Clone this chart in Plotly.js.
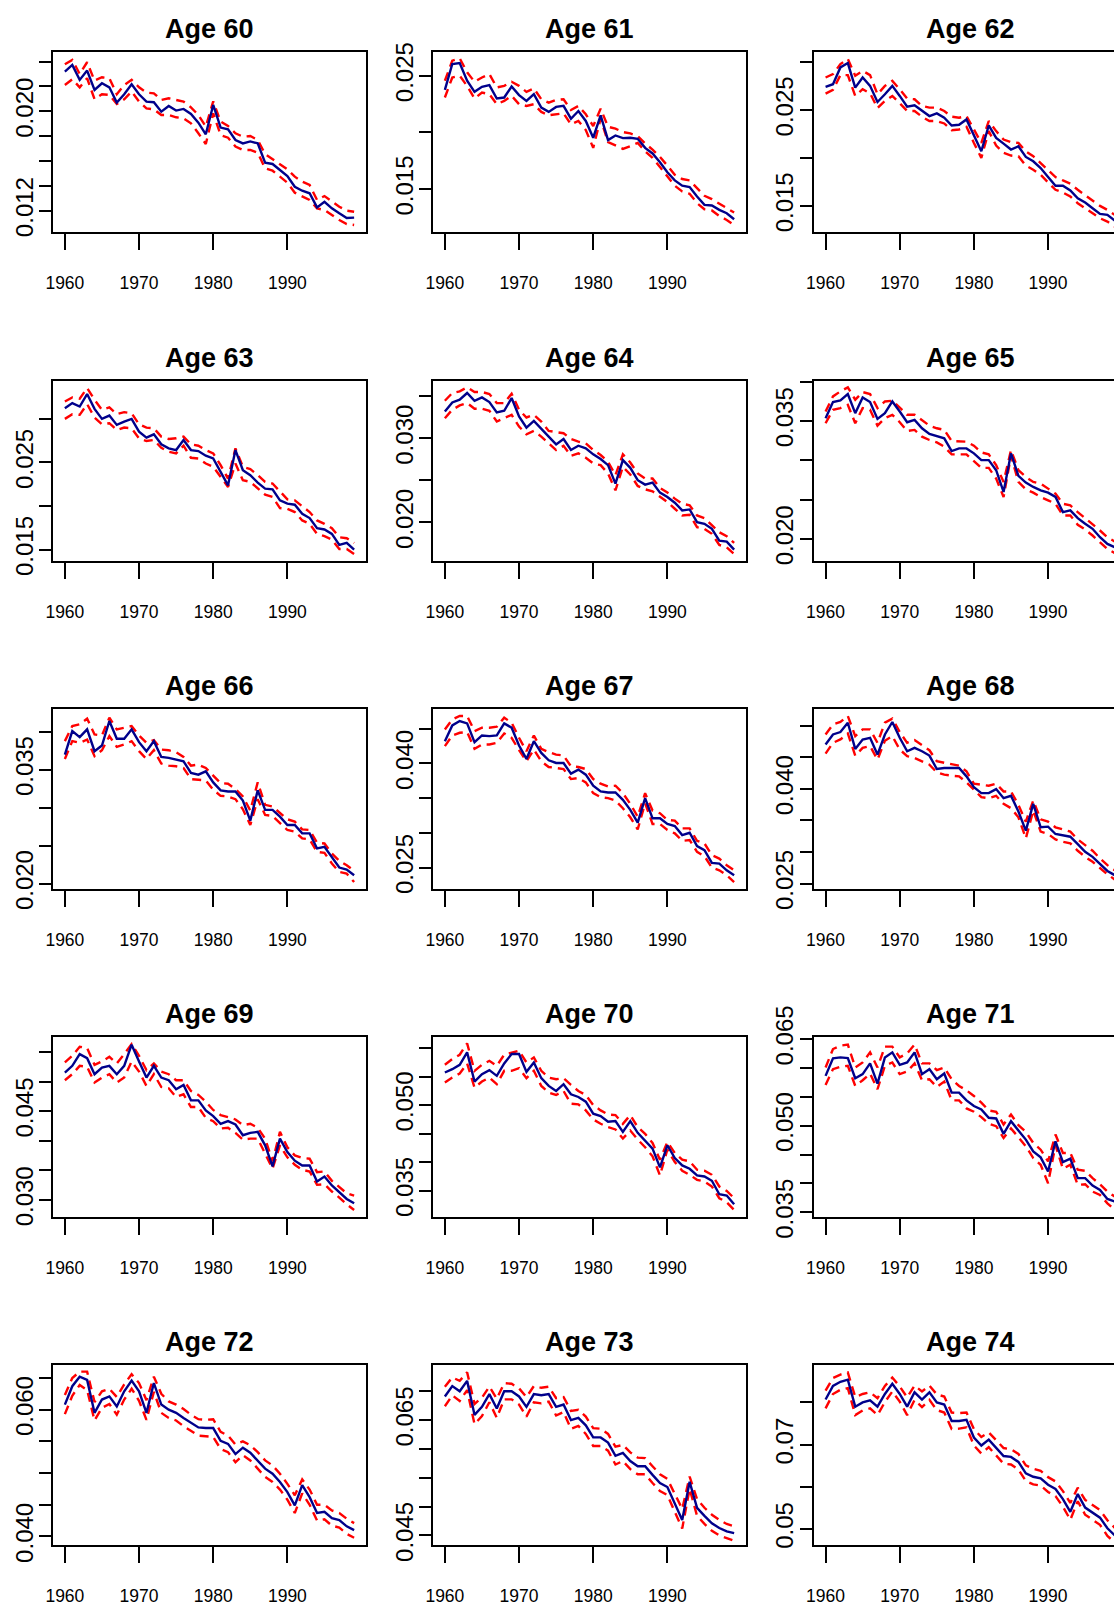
<!DOCTYPE html>
<html><head><meta charset="utf-8">
<script src="https://cdn.plot.ly/plotly-3.0.1.min.js"></script>
<style>html,body{margin:0;padding:0;overflow:hidden;background:#fff}#chart{width:1140px;height:1680px}</style>
</head><body><div id="chart"></div>
<script>
// Years of observation
const years = [1960,1961,1962,1963,1964,1965,1966,1967,1968,1969,1970,1971,1972,1973,1974,1975,1976,1977,1978,1979,1980,1981,1982,1983,1984,1985,1986,1987,1988,1989,1990,1991,1992,1993,1994,1995,1996,1997,1998,1999];
const ages = [60,61,62,63,64,65,66,67,68,69,70,71,72,73,74];
const xTickVals = [1960,1970,1980,1990];
// Values below are in units of 1/1000 (per mille); tick labels show the original decimal labels.
const mid60=[23.2,23.73,22.53,23.28,21.72,22.26,21.93,20.7,21.37,22.18,21.37,20.78,20.73,19.97,20.43,20.06,20.19,19.79,19.09,18.15,20.51,18.69,18.55,17.69,17.42,17.58,17.42,15.87,15.76,15.28,14.79,13.93,13.61,13.4,12.27,12.72,12.19,11.79,11.41,11.44];
const up60=[23.79,24.14,23.0,23.95,22.47,22.74,22.66,21.37,22.12,22.53,21.93,21.5,21.45,20.91,21.05,20.91,20.78,20.32,19.7,18.77,20.8,19.17,18.82,18.23,17.96,18.01,17.69,16.56,16.13,15.71,15.33,14.74,14.34,14.07,12.86,13.18,12.72,12.32,12.0,11.92];
const lo60=[22.12,22.58,21.93,22.66,20.97,21.37,21.32,20.59,20.97,21.59,20.78,20.24,20.16,19.7,19.7,19.52,19.44,19.03,18.23,17.37,19.84,18.09,17.88,17.16,16.89,16.89,16.67,15.41,15.22,14.74,14.26,13.45,13.13,12.86,12.19,12.05,11.65,11.25,10.93,10.85];
const mid61=[23.76,26.04,26.13,24.56,23.58,24.02,24.17,22.99,23.08,24.05,23.29,22.78,23.37,22.19,21.81,22.25,22.34,21.21,21.89,21.01,19.53,21.51,19.32,19.73,19.5,19.53,19.44,18.64,18.14,17.37,16.48,15.77,15.3,15.18,14.35,13.61,13.55,13.17,12.87,12.34];
const up61=[24.56,26.33,26.54,25.3,24.47,24.85,25.15,23.97,24.11,24.47,24.11,23.58,23.88,22.93,22.63,22.87,22.93,21.98,22.34,21.6,20.56,22.1,20.5,20.33,20.03,19.91,19.68,19.02,18.49,17.84,17.07,16.27,15.89,15.77,15.09,14.41,14.11,13.7,13.31,12.93];
const lo61=[23.08,24.85,25.0,24.1,22.99,23.52,23.37,22.49,22.78,23.23,22.49,22.34,22.49,21.81,21.51,21.6,21.69,20.71,21.01,20.21,18.64,21.21,19.14,18.85,18.55,18.79,19.08,18.34,17.75,16.95,16.07,15.3,14.79,14.59,13.76,13.22,13.11,12.63,12.28,11.83];
const mid62=[27.41,27.69,29.44,29.9,27.34,28.39,27.52,25.84,26.64,27.52,26.47,25.35,25.49,24.9,24.37,24.65,24.2,23.39,23.46,24.02,22.27,20.7,23.39,22.1,21.5,20.88,21.22,20.11,19.65,18.95,18.01,17.1,17.1,16.61,15.8,15.35,14.76,14.16,14.06,13.46];
const up62=[28.39,28.74,29.79,30.32,28.57,29.09,28.64,26.64,27.52,28.04,27.17,26.19,26.12,25.42,25.25,25.25,24.9,24.3,24.2,24.37,22.97,21.57,23.85,22.8,21.92,21.64,21.57,20.7,20.18,19.48,18.71,18.01,17.66,17.31,16.68,16.15,15.56,15.0,14.58,14.06];
const lo62=[26.71,27.1,28.64,28.64,26.47,27.17,26.75,25.2,25.95,26.47,25.7,24.9,24.9,24.3,23.85,23.85,23.6,22.9,22.97,23.25,21.57,20.0,22.8,21.29,20.53,20.25,20.18,19.2,18.78,18.25,17.45,16.68,16.4,15.98,15.28,14.76,14.23,13.71,13.36,12.83];
const mid63=[31.23,31.81,31.42,32.85,31.15,30.0,30.38,29.31,29.69,30.0,28.54,27.85,28.23,27.08,26.62,26.42,27.58,26.42,26.31,25.77,25.46,23.92,22.38,26.42,24.12,23.54,22.69,22.0,21.92,20.65,20.27,20.15,19.12,18.62,17.46,17.31,16.81,15.54,15.77,15.0];
const up63=[32.0,32.46,32.31,33.54,32.19,31.04,31.31,30.54,30.77,30.65,29.38,29.0,28.92,27.96,27.69,27.77,27.96,27.08,26.92,26.42,26.04,24.69,23.15,26.62,24.5,24.23,23.54,22.77,22.58,21.62,20.77,20.65,20.0,19.31,18.35,17.96,17.46,16.42,16.31,15.77];
const lo63=[30.0,30.54,30.46,31.69,30.15,29.38,29.5,28.73,29.0,28.92,27.77,27.46,27.58,26.69,26.23,26.04,26.92,25.54,25.46,24.88,24.5,23.35,22.19,24.88,22.96,22.77,22.0,21.31,21.04,19.77,19.69,19.31,18.35,17.96,16.81,16.54,16.15,15.08,15.08,14.5];
const mid64=[33.19,34.26,34.58,35.38,34.46,34.86,34.3,33.07,33.27,34.78,32.59,31.27,32.07,31.08,30.2,29.28,29.92,28.61,29.12,28.8,28.09,27.53,26.81,24.62,27.41,26.49,25.02,24.5,24.74,23.55,23.03,22.35,21.43,21.55,20.04,19.84,19.24,17.85,17.73,16.77];
const up64=[34.46,35.38,35.58,36.06,35.5,35.5,35.26,34.18,34.18,35.3,33.39,32.47,32.79,31.99,30.88,30.72,30.6,29.92,29.6,29.4,28.61,28.01,27.21,25.62,28.09,27.13,25.82,25.22,25.22,24.1,23.55,22.83,22.23,22.03,20.84,20.52,19.72,18.84,18.37,17.57];
const lo64=[32.39,33.39,33.9,34.18,33.51,33.51,33.27,31.99,32.39,32.79,31.39,30.48,30.88,30.2,29.4,28.6,29.1,27.93,28.21,27.69,27.01,26.81,25.82,23.82,26.61,25.7,24.34,23.94,23.71,23.03,22.43,21.63,20.84,20.92,19.44,19.24,18.65,17.33,17.05,16.25];
const mid65=[35.34,37.39,37.6,38.41,35.98,37.98,37.39,35.25,35.98,37.47,36.19,34.83,35.13,34.06,33.34,33.08,32.78,31.16,31.5,31.5,30.87,30.01,30.01,28.73,25.97,30.87,28.01,27.16,26.6,26.18,25.88,25.33,23.41,23.62,22.64,21.92,21.28,20.21,19.36,18.93];
const up65=[36.19,38.11,38.75,39.26,37.69,38.66,38.41,36.62,37.47,37.56,36.7,35.77,35.77,35.13,34.4,34.06,33.85,32.44,32.44,32.36,31.85,30.99,30.74,29.37,27.24,31.29,28.73,27.88,27.24,27.03,26.39,25.75,24.47,24.26,23.41,22.64,21.92,21.07,20.21,19.66];
const lo65=[34.7,36.4,36.62,37.04,34.7,36.62,36.4,34.4,35.34,35.77,34.83,33.72,33.85,33.0,32.57,32.27,31.72,30.74,30.74,30.74,29.89,29.03,29.03,27.67,25.33,30.57,27.24,26.31,25.88,25.33,24.9,24.47,22.98,22.98,21.79,21.19,20.43,19.57,18.72,18.21];
const mid66=[36.99,40.07,39.28,40.3,37.43,38.18,41.4,39.06,39.06,40.3,38.62,37.43,38.75,36.68,36.55,36.32,36.1,34.56,34.34,34.78,33.32,32.27,32.13,32.13,30.94,28.29,32.27,29.71,29.71,28.82,27.72,27.72,26.62,26.62,24.63,24.85,23.44,22.12,21.85,21.1];
const up66=[38.75,40.74,40.96,41.71,39.63,39.5,41.84,40.3,40.52,40.74,39.5,38.53,38.88,37.65,37.56,37.29,36.68,35.53,35.66,35.22,34.21,33.24,33.15,32.44,31.47,29.62,33.32,30.37,30.15,29.27,28.47,28.16,27.15,27.06,25.38,25.29,23.97,23.0,22.43,21.68];
const lo66=[36.41,38.75,38.53,38.97,36.77,37.56,39.41,38.0,38.31,38.75,37.43,36.41,37.56,35.8,35.53,35.44,35.22,33.76,33.68,33.59,32.35,31.56,31.47,31.12,29.79,27.72,31.12,29.04,28.91,28.03,27.06,26.84,25.96,25.82,24.19,24.06,22.65,21.54,21.32,20.22];
const mid67=[43.21,45.48,46.11,45.77,43.07,44.03,43.94,44.03,45.77,45.15,42.59,40.65,43.21,41.52,40.46,40.07,40.07,38.53,39.11,38.38,36.79,35.97,35.82,35.82,34.76,33.31,31.47,35.0,32.1,32.1,31.28,30.99,29.69,30.02,28.09,27.51,25.68,25.58,24.61,23.89];
const up67=[44.9,46.35,46.84,46.84,44.66,45.15,45.15,45.29,46.59,45.87,43.7,41.76,44.03,42.1,41.62,41.28,41.14,39.59,39.49,39.2,37.75,37.08,36.69,36.79,35.72,34.18,32.34,35.72,33.21,32.83,31.86,31.76,30.65,30.65,28.86,28.48,26.79,26.3,25.34,24.61];
const lo67=[42.49,44.03,44.42,44.52,42.1,42.73,42.73,42.97,44.32,43.7,41.91,40.31,42.0,40.31,39.49,39.35,39.2,37.75,37.9,37.27,35.72,35.15,35.0,34.66,33.55,32.25,30.51,34.28,31.28,31.28,30.41,29.93,28.86,28.96,27.27,26.64,25.0,24.61,23.89,22.92];
const mid68=[47.0,48.59,48.97,50.45,46.31,47.8,48.06,45.41,48.59,50.56,48.06,45.94,46.47,45.94,45.25,43.13,43.29,43.29,43.29,41.97,40.27,39.32,39.32,39.95,38.52,38.89,36.4,33.38,37.62,33.91,34.01,32.85,32.69,32.42,31.26,30.04,29.24,28.08,27.01,26.33];
const up68=[48.59,50.18,50.56,51.52,48.33,49.39,49.39,47.27,50.45,51.09,48.97,47.27,47.7,46.84,46.1,44.35,44.09,43.82,43.66,42.76,40.8,40.64,40.48,40.8,39.58,39.58,37.46,34.8,38.15,35.18,34.8,33.91,33.59,33.22,32.0,31.1,30.2,28.98,27.92,27.12];
const lo68=[45.57,47.27,47.8,48.75,45.25,46.47,46.74,44.62,47.6,48.33,46.21,45.15,44.88,44.35,43.82,42.6,42.23,42.07,41.97,41.01,39.85,38.68,38.52,38.89,37.62,36.93,35.5,32.16,36.56,33.22,32.85,32.0,31.63,31.36,30.2,29.24,28.45,27.39,26.48,25.64];
const mid69=[51.52,52.65,54.63,53.95,51.24,52.37,52.65,51.24,52.65,56.22,53.39,50.67,52.65,50.67,50.22,48.69,49.42,46.82,46.82,45.12,44.16,42.86,43.31,42.74,40.93,41.33,41.5,39.23,35.66,40.36,38.1,36.63,35.83,35.83,33.11,33.96,32.44,31.3,30.17,29.43];
const up69=[53.22,54.35,55.88,55.65,52.82,53.39,54.18,53.05,54.63,56.33,54.35,51.92,53.05,51.69,51.24,50.22,50.22,48.4,47.73,46.59,45.2,44.33,43.99,43.59,42.63,42.86,42.18,40.36,36.51,41.5,38.89,37.53,37.08,36.97,34.7,34.81,33.23,32.1,31.13,30.74];
const lo69=[50.22,51.24,52.65,52.48,49.82,50.67,51.24,49.82,50.67,53.39,51.69,49.25,51.24,49.08,48.86,47.39,47.84,45.69,45.69,43.87,43.31,42.06,42.18,41.33,40.19,40.36,40.36,37.93,35.27,39.23,37.19,35.95,35.1,34.81,32.55,32.66,31.42,30.4,29.26,28.3];
const mid70=[55.7,56.29,57.06,59.23,54.12,55.41,56.12,55.12,57.29,58.94,58.94,55.82,57.47,54.71,53.35,52.47,53.65,51.88,51.41,50.59,48.47,48.06,47.06,47.18,45.29,47.18,45.12,43.76,42.35,39.06,42.94,40.71,39.41,38.82,37.65,37.47,36.71,34.35,34.12,32.59];
const up70=[57.06,58.06,58.82,60.82,56.0,57.06,57.76,56.88,58.82,59.23,59.53,57.47,58.35,56.0,54.82,54.53,54.71,53.53,52.47,51.76,50.0,49.06,48.35,48.24,46.71,48.24,46.12,44.94,43.35,40.41,43.53,41.59,40.41,40.12,38.65,38.47,37.76,35.71,34.94,33.65];
const lo70=[53.94,54.82,55.53,57.29,53.06,54.12,54.82,53.65,56.0,56.0,56.47,54.71,56.0,53.35,52.18,51.76,52.47,50.24,50.12,49.06,47.47,46.71,46.12,45.71,44.12,45.53,43.94,42.59,41.0,37.65,42.2,40.0,38.47,37.76,36.88,36.59,35.71,33.65,32.94,31.59];
const mid71=[58.62,61.64,61.81,61.69,58.21,58.91,60.77,57.28,61.81,62.68,60.53,60.94,62.68,58.91,59.78,58.04,59.02,55.72,55.72,54.38,53.4,52.82,51.36,51.25,48.58,50.78,49.16,47.59,45.56,44.52,42.08,47.3,43.7,44.28,40.92,40.92,39.64,38.89,37.32,36.86];
const up71=[60.07,63.26,63.84,64.02,60.07,60.94,62.68,60.07,63.67,63.67,61.81,62.51,64.02,60.77,60.77,59.6,60.07,58.04,56.88,56.12,55.14,53.98,52.64,52.41,50.2,51.94,50.09,48.93,47.01,45.85,43.82,48.46,45.27,45.3,42.37,42.2,40.92,39.87,38.6,37.73];
const lo71=[57.05,59.78,60.19,60.36,56.88,57.86,59.02,56.3,60.36,60.94,58.91,59.37,60.77,57.86,58.04,56.7,57.63,54.38,54.38,52.99,52.41,51.48,50.32,49.91,47.88,49.51,48.0,46.43,44.4,43.24,40.05,46.61,42.54,43.24,39.76,39.87,38.6,38.02,36.57,35.41];
const mid72=[60.8,63.7,65.2,64.7,59.5,61.6,62.1,60.5,62.9,64.6,62.9,59.5,64.2,60.8,60.0,59.5,58.7,57.9,57.2,57.1,57.1,55.1,54.6,53.0,54.0,53.2,52.0,50.7,49.9,48.6,47.0,44.9,48.1,46.2,43.7,43.9,42.9,42.6,41.6,41.0];
const up72=[62.3,65.0,66.0,66.0,61.2,62.9,63.3,62.0,64.0,65.6,64.2,61.5,65.2,62.5,61.3,60.8,60.1,59.2,58.5,58.4,58.5,56.5,55.9,54.5,55.0,54.4,53.3,52.0,51.2,49.9,48.3,46.5,49.0,47.4,45.0,45.0,44.1,43.7,42.8,42.1];
const lo72=[59.3,62.2,63.9,63.1,58.3,60.3,60.9,59.2,61.6,63.3,61.4,58.4,62.8,59.5,58.7,58.3,57.4,56.6,55.9,55.8,55.7,53.8,53.3,51.7,52.8,52.0,50.7,49.4,48.6,47.4,45.8,43.7,46.8,45.0,42.5,42.7,41.7,41.4,40.4,39.8];
const mid73=[69.1,70.9,70.0,71.8,65.9,67.3,69.5,67.0,70.0,70.0,69.1,67.3,69.5,69.3,69.5,67.3,67.7,65.0,65.4,64.1,62.0,62.0,61.1,58.8,59.3,57.9,57.0,57.0,55.5,54.1,53.4,50.7,47.7,54.3,49.8,48.4,47.1,46.3,45.7,45.4];
const up73=[70.8,72.4,71.8,73.3,67.8,68.9,70.8,68.7,71.4,71.3,70.5,69.0,70.9,70.6,70.8,68.8,69.0,66.6,66.8,65.6,63.6,63.5,62.6,60.4,60.7,59.4,58.5,58.4,57.0,55.6,54.8,52.3,49.6,55.2,51.3,49.8,48.6,47.7,47.0,46.6];
const lo73=[67.4,69.3,68.3,70.2,64.3,65.7,68.1,65.4,68.6,68.6,67.7,65.6,68.1,67.9,68.2,65.8,66.4,63.5,64.0,62.6,60.5,60.5,59.7,57.3,57.9,56.5,55.6,55.6,54.1,52.7,52.0,49.2,46.2,53.1,48.4,47.0,45.8,45.0,44.5,44.1];
const mid74=[80.7,83.9,84.9,85.4,79.0,80.0,80.5,79.0,82.0,84.4,82.0,79.0,82.4,80.7,82.4,80.0,79.5,75.6,75.6,75.9,71.7,69.8,71.2,69.3,67.3,67.1,65.9,63.2,62.4,62.0,60.5,59.5,57.1,54.1,58.3,55.1,53.9,52.7,50.2,48.5];
const up74=[82.8,85.8,86.6,87.1,81.3,82.0,82.4,81.0,83.9,85.9,83.8,81.2,84.0,82.6,84.0,81.9,81.4,77.6,77.5,77.6,73.7,71.8,72.9,71.1,69.2,68.9,67.8,65.1,64.3,63.8,62.3,61.3,59.0,56.2,59.8,56.9,55.7,54.5,52.1,50.3];
const lo74=[78.6,82.0,83.0,83.4,77.0,78.1,78.6,77.0,80.1,82.6,80.2,77.0,80.6,78.9,80.6,78.2,77.6,73.7,73.8,74.1,69.8,67.9,69.4,67.5,65.5,65.3,64.1,61.4,60.6,60.3,58.8,57.8,55.3,52.2,56.6,53.4,52.2,51.0,48.4,46.8];
// y tick positions (per mille) and labels per panel
const yTick60=[12,14,16,18,20,22,24], yLab60=["0.012","","","","0.020","",""];
const yTick61=[15,20,25], yLab61=["0.015","","0.025"];
const yTick62=[15,20,25,30], yLab62=["0.015","","0.025",""];
const yTick63=[15,20,25,30], yLab63=["0.015","","0.025",""];
const yTick64=[20,25,30,35], yLab64=["0.020","","0.030",""];
const yTick65=[20,25,30,35,40], yLab65=["0.020","","","0.035",""];
const yTick66=[20,25,30,35,40], yLab66=["0.020","","","0.035",""];
const yTick67=[25,30,35,40,45], yLab67=["0.025","","","0.040",""];
const yTick68=[25,30,35,40,45,50], yLab68=["0.025","","","0.040","",""];
const yTick69=[30,35,40,45,50,55], yLab69=["0.030","","","0.045","",""];
const yTick70=[35,40,45,50,55,60], yLab70=["0.035","","","0.050","",""];
const yTick71=[35,40,45,50,55,60,65], yLab71=["0.035","","","0.050","","","0.065"];
const yTick72=[40,45,50,55,60,65], yLab72=["0.040","","","","0.060",""];
const yTick73=[45,50,55,60,65,70], yLab73=["0.045","","","","0.065",""];
const yTick74=[50,60,70,80], yLab74=["0.05","","0.07",""];

const mids=[mid60,mid61,mid62,mid63,mid64,mid65,mid66,mid67,mid68,mid69,mid70,mid71,mid72,mid73,mid74];
const ups=[up60,up61,up62,up63,up64,up65,up66,up67,up68,up69,up70,up71,up72,up73,up74];
const los=[lo60,lo61,lo62,lo63,lo64,lo65,lo66,lo67,lo68,lo69,lo70,lo71,lo72,lo73,lo74];
const yTicks=[yTick60,yTick61,yTick62,yTick63,yTick64,yTick65,yTick66,yTick67,yTick68,yTick69,yTick70,yTick71,yTick72,yTick73,yTick74];
const yLabs=[yLab60,yLab61,yLab62,yLab63,yLab64,yLab65,yLab66,yLab67,yLab68,yLab69,yLab70,yLab71,yLab72,yLab73,yLab74];

// Layout (pixels)
const W=1140, H=1680;
const colL=[53.3,433.3,814], boxW=312.4;
const rowT=[52.3,381.3,709.3,1037.3,1365.3], boxH=179.4;
const yRanges=[[10.31,24.75],[11.24,27.07],[12.31,31.02],[13.73,34.31],[15.46,36.77],[17.23,40.03],[19.34,42.94],[21.96,47.8],[24.2,52.57],[27.17,57.47],[30.41,61.88],[34.25,65.29],[38.7,67.0],[43.4,74.5],[46.3,88.8]];
const sans='"Liberation Sans",Arial,Helvetica,sans-serif';

const traces=[]; const layout={width:W,height:H,margin:{l:0,r:0,t:0,b:0},showlegend:false,paper_bgcolor:'#fff',plot_bgcolor:'#fff',annotations:[]};
ages.forEach((age,i)=>{
  const n=i+1, r=Math.floor(i/3), c=i%3;
  const xa='x'+(n===1?'':n), ya='y'+(n===1?'':n);
  const dash={color:'#ff0000',width:2.4,dash:'9px,6px'};
  traces.push({x:years,y:ups[i],xaxis:xa,yaxis:ya,mode:'lines',line:dash,hoverinfo:'skip'});
  traces.push({x:years,y:los[i],xaxis:xa,yaxis:ya,mode:'lines',line:dash,hoverinfo:'skip'});
  traces.push({x:years,y:mids[i],xaxis:xa,yaxis:ya,mode:'lines',line:{color:'#00008b',width:2.4}});
  const L=colL[c], T=rowT[r];
  layout['xaxis'+(n===1?'':n)]={domain:[L/W,(L+boxW)/W],anchor:ya,range:[1958.44,2000.56],tickvals:xTickVals,ticktext:xTickVals.map(String),
    ticks:'outside',ticklen:16,tickwidth:2,tickcolor:'#000',showline:true,linewidth:2,linecolor:'#000',mirror:true,showgrid:false,zeroline:false,
    tickfont:{family:sans,size:17.5,color:'#000'},ticklabelstandoff:18,fixedrange:true};
  layout['yaxis'+(n===1?'':n)]={domain:[1-(T+boxH)/H,1-T/H],anchor:xa,range:yRanges[i],tickvals:yTicks[i],ticktext:yLabs[i],
    ticks:'outside',ticklen:12,tickwidth:2,tickcolor:'#000',showline:true,linewidth:2,linecolor:'#000',mirror:true,showgrid:false,zeroline:false,
    tickangle:-90,tickfont:{family:sans,size:24,color:'#000'},ticklabelstandoff:-3,fixedrange:true};
  layout.annotations.push({text:'Age '+age,xref:'paper',yref:'paper',x:(L+boxW/2)/W,y:1-(T-23)/H,xanchor:'center',yanchor:'middle',showarrow:false,
    font:{family:sans,size:27,weight:'bold',color:'#000'}});
});
Plotly.newPlot('chart',traces,layout,{displayModeBar:false,staticPlot:true});
</script></body></html>
